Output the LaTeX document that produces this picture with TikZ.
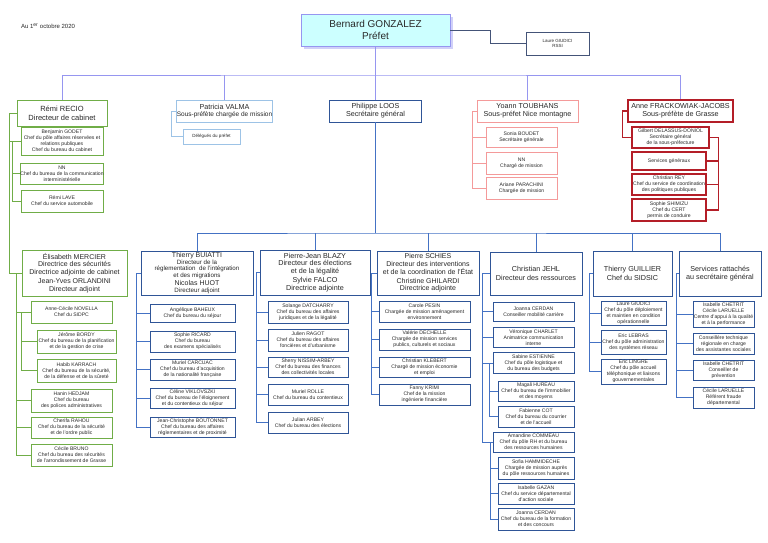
\documentclass[tikz,border=0pt]{standalone}
\usepackage{fontspec}
\setmainfont{Liberation Sans}
\usetikzlibrary{shadows}
\definecolor{lavande}{RGB}{150,150,240}
\definecolor{ciel}{RGB}{204,255,255}
\definecolor{vert}{RGB}{112,173,71}
\definecolor{bleusg}{RGB}{47,85,151}
\definecolor{bleulien}{RGB}{68,114,196}
\definecolor{bleuclair}{RGB}{157,195,230}
\definecolor{rose}{RGB}{244,154,154}
\definecolor{rouge}{RGB}{180,30,40}
\definecolor{ardoise}{RGB}{68,84,120}
\definecolor{texte}{RGB}{40,40,40}

\begin{document}
\begin{tikzpicture}[x=1pt, y=-1pt, line width=0.8pt,
    boite/.style={draw, fill=white, align=center, inner sep=0pt, text=texte},
    petit/.style={boite, font=\fontsize{5.1}{5.9}\selectfont},
    moyen/.style={boite, font=\fontsize{7.2}{8.2}\selectfont},
    taille/.style 2 args={minimum width=#1pt, minimum height=#2pt},
    cabinet/.style={draw=vert},
    secgen/.style={draw=bleusg},
    mission/.style={draw=bleuclair},
    nice/.style={draw=rose},
    grasse/.style={draw=rouge, line width=1.1pt}]
  \useasboundingbox (0,0) rectangle (768,543);

  % Date
  \node[text=texte, font=\fontsize{6}{7}\selectfont] (date) at (48,26) {Au 1\textsuperscript{er} octobre 2020};

  % Préfet
  \node[moyen, draw=lavande, fill=ciel, font=\fontsize{10}{11.5}\selectfont, taille={149}{32},
        drop shadow={shadow xshift=3pt, shadow yshift=-3pt, fill=lavande!45, opacity=1}] (prefet) at (375.5,30) {Bernard GONZALEZ\\Préfet};
  \node[petit, draw=ardoise, font=\fontsize{4.5}{5.5}\selectfont, taille={63}{23}] (rssi) at (557.5,43.5) {Laure GIUDICI\\RSSI};
  \draw[ardoise] (prefet.east) -- ++(40,0) |- (rssi.west);

  % Cabinet
  \node[moyen, cabinet, taille={90}{26}, font=\fontsize{7.5}{8.8}\selectfont] (recio) at (62,113) {Rémi RECIO\\Directeur de cabinet};
  \node[petit, cabinet, taille={82}{28}] (godet) at (62,141) {Benjamin GODET\\Chef du pôle affaires réservées et\\relations publiques\\Chef du bureau du cabinet};
  \node[petit, cabinet, taille={82}{21}] (nncom) at (62,173.5) {NN\\Chef du bureau de la communication\\interministérielle};
  \node[petit, cabinet, taille={82}{22}] (lave) at (62,201) {Rémi LAVE\\Chef du service automobile};

  % Sous-préfète chargée de mission
  \node[boite, mission, taille={95}{22}, font=\fontsize{6.5}{7.6}\selectfont] (valma) at (224.5,111) {{\fontsize{7.2}{8}\selectfont Patricia VALMA}\\Sous-préfète chargée de mission};
  \node[petit, mission, taille={57}{15}, font=\fontsize{4.5}{5.5}\selectfont] (delegues) at (211.5,136.5) {Délégués du préfet};

  % Secrétaire général
  \node[moyen, secgen, taille={92}{22}] (loos) at (375.5,111) {Philippe LOOS\\Secrétaire général};

  % Sous-préfet Nice montagne
  \node[moyen, nice, taille={101}{22}] (toubhans) at (527.5,111) {Yoann TOUBHANS\\Sous-préfet Nice montagne};
  \node[petit, nice, taille={71}{20}] (boudet) at (521.5,137) {Sonia BOUDET\\Secrétaire générale};
  \node[petit, nice, taille={71}{22}] (nnmission) at (521.5,163) {NN\\Chargé de mission};
  \node[petit, nice, taille={71}{22}] (parachini) at (521.5,188) {Ariane PARACHINI\\Chargée de mission};

  % Sous-préfète de Grasse
  \node[moyen, grasse, taille={105}{22}] (frackowiak) at (680.5,111) {Anne FRACKOWIAK-JACOBS\\Sous-préfète de Grasse};
  \node[petit, grasse, taille={77}{21}] (delassus) at (670.5,137.5) {Gilbert DELASSUS-DONIOL\\Secrétaire général\\de la sous-préfecture};
  \node[petit, grasse, taille={74}{18}] (servgen) at (669,161) {Services généraux};
  \node[petit, grasse, taille={74}{21}] (rey) at (669,184.5) {Christian REY\\Chef du service de coordination\\des politiques publiques};
  \node[petit, grasse, taille={74}{22}] (shimizu) at (669,210) {Sophie SHIMIZU\\Chef du CERT\\permis de conduire};

  % Liaisons du préfet
  \coordinate (prefbus) at (375.5,75);
  \draw[lavande] (prefet.south) -- (loos.north);
  \draw[lavande] (recio.north) |- (prefbus) -| (frackowiak.north);
  \draw[lavande] (valma.north) -- (valma.north |- prefbus) (toubhans.north) -- (toubhans.north |- prefbus);
  \draw[vert] (godet.west) -- ++(-11,0) (nncom.west) -- ++(-8,0);
  \draw[vert] (godet.west) ++(-8,0) |- (lave.west);
  \draw[bleuclair] (valma.west) -- ++(-5,0) |- (delegues.west);
  \draw[rose] (toubhans.west) -- ++(-4,0) |- (parachini.west);
  \draw[rose] (boudet.west) -- ++(-13,0) (nnmission.west) -- ++(-13,0);
  \draw[rouge, line width=1.1pt] (frackowiak.west) -- ++(-5,0) |- (delassus.west);
  \draw[rouge, line width=1.1pt] (delassus.east) -- ++(9,0) |- (shimizu.east);
  \draw[rouge, line width=1.1pt] (servgen.east) -- ++(12,0) (rey.east) -- ++(12,0);

  % Direction des sécurités
  \node[boite, cabinet, taille={105}{46}, font=\fontsize{7}{7.6}\selectfont] (mercier) at (74.5,273) {Élisabeth MERCIER\\Directrice des sécurités\\Directrice adjointe de cabinet\\[1.5pt]Jean-Yves ORLANDINI\\Directeur adjoint};
  \node[petit, cabinet, taille={81}{22}] (novella) at (71.5,312) {Anne-Cécile NOVELLA\\Chef du SIDPC};
  \node[petit, cabinet, taille={79}{23}] (bordy) at (76.5,341.5) {Jérôme BORDY\\Chef du bureau de la planification\\et de la gestion de crise};
  \node[petit, cabinet, taille={79}{23}] (karrach) at (76.5,370.5) {Habib KARRACH\\Chef du bureau de la sécurité,\\de la défense et de la sûreté};
  \node[petit, cabinet, taille={81}{23}] (hedjam) at (71.5,400.5) {Hanin HEDJAM\\Chef du bureau\\des polices administratives};
  \node[petit, cabinet, taille={81}{21}] (rahou) at (71.5,427.5) {Cherifa RAHOU\\Chef du bureau de la sécurité\\et de l'ordre public};
  \node[petit, cabinet, taille={81}{22}] (bruno) at (71.5,455) {Cécile BRUNO\\Chef du bureau des sécurités\\de l'arrondissement de Grasse};
  \draw[vert] (recio.west) -- ++(-7,0) |- (mercier.west);
  \draw[vert] (mercier.west) ++(-5,0) |- (bruno.west);
  \draw[vert] (novella.west) -- ++(-14,0) (hedjam.west) -- ++(-14,0) (rahou.west) -- ++(-14,0);
  \draw[vert] (novella.west) ++(-9,0) |- (karrach.west);
  \draw[vert] (bordy.west) -- ++(-15,0);

  % Direction de la réglementation
  \node[boite, secgen, taille={112}{44}, font=\fontsize{6.2}{6.6}\selectfont] (buiatti) at (197,273) {{\fontsize{7}{7}\selectfont Thierry BUIATTI}\\Directeur de la\\réglementation~~de l'intégration\\et des migrations\\[1.5pt]{\fontsize{7}{7}\selectfont Nicolas HUOT}\\Directeur adjoint};
  \node[petit, secgen, taille={85}{18}] (baheux) at (192.5,313.5) {Angélique BAHEUX\\Chef du bureau du séjour};
  \node[petit, secgen, taille={85}{21}] (ricard) at (192.5,341.5) {Sophie RICARD\\Chef du bureau\\des examens spécialisés};
  \node[petit, secgen, taille={85}{21}] (carcuac) at (192.5,369.5) {Muriel CARCUAC\\Chef du bureau d'acquisition\\de la nationalité française};
  \node[petit, secgen, taille={85}{20}] (viklovszki) at (192.5,398) {Céline VIKLOVSZKI\\Chef du bureau de l'éloignement\\et du contentieux du séjour};
  \node[petit, secgen, taille={85}{20}] (boutonnet) at (192.5,427) {Jean-Christophe BOUTONNET\\Chef du bureau des affaires\\réglementaires et de proximité};
  \draw[bleulien] (buiatti.west) -- ++(-4,0) |- (boutonnet.west);
  \draw[bleulien] (baheux.west) -- ++(-13,0) (ricard.west) -- ++(-13,0) (carcuac.west) -- ++(-13,0) (viklovszki.west) -- ++(-13,0);

  % Direction des élections
  \node[boite, secgen, taille={110}{45}, font=\fontsize{7.2}{7.9}\selectfont] (blazy) at (315,272.5) {Pierre-Jean BLAZY\\Directeur des élections\\et de la légalité\\[1pt]Sylvie FALCO\\Directrice adjointe};
  \node[petit, secgen, taille={80}{22}] (datcharry) at (308,312) {Solange DATCHARRY\\Chef du bureau des affaires\\juridiques et de la légalité};
  \node[petit, secgen, taille={80}{22}] (ragot) at (308,340) {Julien RAGOT\\Chef du bureau des affaires\\foncières et d'urbanisme};
  \node[petit, secgen, taille={80}{20}] (nissim) at (308,367) {Sherry NISSIM-ARBEY\\Chef du bureau des finances\\des collectivités locales};
  \node[petit, secgen, taille={80}{21}] (rolle) at (308,394.5) {Muriel ROLLE\\Chef du bureau du contentieux};
  \node[petit, secgen, taille={80}{21}] (arbey) at (308,422.5) {Julian ARBEY\\Chef du bureau des élections};
  \draw[bleulien] (blazy.west) -- ++(-3,0) |- (arbey.west);
  \draw[bleulien] (datcharry.west) -- ++(-11,0) (ragot.west) -- ++(-11,0) (nissim.west) -- ++(-11,0) (rolle.west) -- ++(-11,0);

  % Direction des interventions
  \node[boite, secgen, taille={102}{44}, font=\fontsize{7}{7.8}\selectfont] (schies) at (428,273) {Pierre SCHIES\\Directeur des interventions\\et de la coordination de l'État\\[1pt]Christine GHILARDI\\Directrice adjointe};
  \node[petit, secgen, taille={91}{21}] (pesin) at (424.5,311.5) {Carole PESIN\\Chargée de mission aménagement\\environnement};
  \node[petit, secgen, taille={91}{21}] (dechelle) at (424.5,339.5) {Valérie DECHELLE\\Chargée de mission services\\publics, culturels et sociaux};
  \node[petit, secgen, taille={91}{20}] (klebert) at (424.5,367) {Christian KLEBERT\\Chargé de mission économie\\et emploi};
  \node[petit, secgen, taille={91}{21}] (krimi) at (424.5,394.5) {Fanny KRIMI\\Chef de la mission\\ingénierie financière};
  \draw[bleulien] (schies.west) -- ++(-5,0) |- (krimi.west);
  \draw[bleulien] (pesin.west) -- ++(-7,0) (dechelle.west) -- ++(-7,0) (klebert.west) -- ++(-7,0);

  % Direction des ressources
  \node[moyen, secgen, taille={92}{43}] (jehl) at (536,273.5) {Christian JEHL\\Directeur des ressources};
  \node[petit, secgen, taille={81}{19}] (cerdan) at (533.5,311.5) {Joanna CERDAN\\Conseiller mobilité carrière};
  \node[petit, secgen, taille={81}{20}] (charlet) at (533.5,337.5) {Véronique CHARLET\\Animatrice communication\\interne};
  \node[petit, secgen, taille={81}{21}] (estienne) at (533.5,363) {Sabine ESTIENNE\\Chef du pôle logistique et\\du bureau des budgets};
  \node[petit, secgen, taille={76}{20}] (hureau) at (536,391) {Magali HUREAU\\Chef du bureau de l'immobilier\\et des moyens};
  \node[petit, secgen, taille={76}{21}] (cot) at (536,416.5) {Fabienne COT\\Chef du bureau du courrier\\et de l'accueil};
  \node[petit, secgen, taille={81}{20}] (commeau) at (533.5,442) {Amandine COMMEAU\\Chef du pôle RH et du bureau\\des ressources humaines};
  \node[petit, secgen, taille={76}{22}] (hammideche) at (536,468) {Sofia HAMMIDECHE\\Chargée de mission auprès\\du pôle ressources humaines};
  \node[petit, secgen, taille={76}{21}] (gazan) at (536,493.5) {Isabelle GAZAN\\Chef du service départemental\\d'action sociale};
  \node[petit, secgen, taille={76}{22}] (cerdanbis) at (536,519) {Joanna CERDAN\\Chef du bureau de la formation\\et des concours};
  \draw[bleulien] (jehl.west) -- ++(-7,0) |- (commeau.west);
  \draw[bleulien] (cerdan.west) -- ++(-10,0) (charlet.west) -- ++(-10,0) (estienne.west) -- ++(-10,0);
  \draw[bleulien] (estienne.west) ++(-3,0) |- (cot.west);
  \draw[bleulien] (hureau.west) -- ++(-8,0);
  \draw[bleulien] (commeau.west) ++(-2,0) |- (cerdanbis.west);
  \draw[bleulien] (hammideche.west) -- ++(-7,0) (gazan.west) -- ++(-7,0);

  % SIDSIC
  \node[moyen, secgen, taille={79}{45}] (guillier) at (632.5,273.5) {Thierry GUILLIER\\Chef du SIDSIC};
  \node[petit, secgen, taille={65}{24}] (giudici) at (633.5,313) {Laure GIUDICI\\Chef du pôle déploiement\\et maintien en condition\\opérationnelle};
  \node[petit, secgen, taille={65}{24}] (lebras) at (633.5,342) {Eric LEBRAS\\Chef du pôle administration\\des systèmes réseau};
  \node[petit, secgen, taille={65}{25}] (lingre) at (633.5,371.5) {Eric LINGRE\\Chef du pôle accueil\\téléphonique et liaisons\\gouvernementales};
  \draw[bleulien] (guillier.west) -- ++(-3,0) |- (lingre.west);
  \draw[bleulien] (giudici.west) -- ++(-11,0) (lebras.west) -- ++(-11,0);

  % Services rattachés
  \node[moyen, secgen, taille={82}{45}] (services) at (720,273.5) {Services rattachés\\au secrétaire général};
  \node[petit, secgen, taille={61}{26}] (qualite) at (723.5,314) {Isabelle CHETRIT\\Cécile LARUELLE\\Centre d'appui à la qualité\\et à la performance};
  \node[petit, secgen, taille={61}{21}] (assistantes) at (723.5,343.5) {Conseillère technique\\régionale en charge\\des assistantes sociales};
  \node[petit, secgen, taille={61}{20}] (prevention) at (723.5,370) {Isabelle CHETRIT\\Conseiller de\\prévention};
  \node[petit, secgen, taille={61}{21}] (fraude) at (723.5,397.5) {Cécile LARUELLE\\Référent fraude\\départemental};
  \draw[bleulien] (services.west) -- ++(-2,0) |- (fraude.west);
  \draw[bleulien] (qualite.west) -- ++(-16,0) (assistantes.west) -- ++(-16,0) (prevention.west) -- ++(-16,0);

  % Liaisons du secrétaire général
  \coordinate (sgbus) at (375.5,233);
  \draw[bleulien] (loos.south) -- (sgbus);
  \draw[bleulien] (buiatti.north) |- (sgbus) -| (services.north);
  \draw[bleulien] (blazy.north) -- (blazy.north |- sgbus) (schies.north) -- (schies.north |- sgbus);
  \draw[bleulien] (jehl.north) -- (jehl.north |- sgbus) (guillier.north) -- (guillier.north |- sgbus);
\end{tikzpicture}
\end{document}
